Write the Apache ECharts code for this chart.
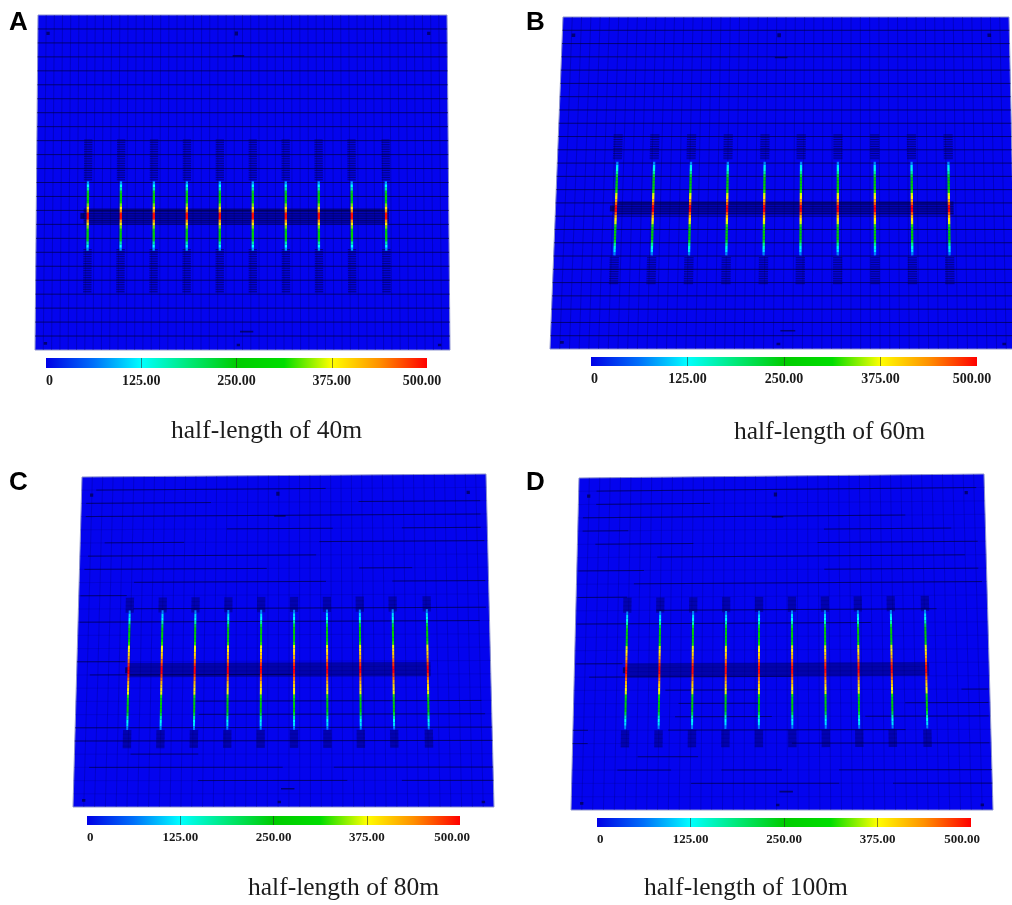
<!DOCTYPE html>
<html><head><meta charset="utf-8">
<style>html,body{margin:0;padding:0;background:#fff}#c{width:1012px;height:905px;filter:blur(0.45px)}</style>
<script src="https://cdn.jsdelivr.net/npm/echarts@6/dist/echarts.min.js"></script>
</head><body><div id="c"></div>
<script>
// ---------- content ----------
const panelLetters = ['A','B','C','D'];
const captions = ['half-length of 40m','half-length of 60m','half-length of 80m','half-length of 100m'];
const scaleTicks = [0,125,250,375,500];
// fracture positions along the horizontal well (model units, 0-1000 across the block)
const fractureXA = [125,205,285,365,445,525,605,685,765,848];
const fractureXB = [132,213,294,375,456,536,617,698,779,860];
const fractureXs = [fractureXA,fractureXB,fractureXA,fractureXA];
// well row in each panel (model units, 0-1000 down the block)
const wellRow = [600,577,586,580];
const fractureSpan = [104,141,181,177];
// pressure read along one fracture, tip to well, then mirrored
const pressureA = [80,125,170,235,255,265,285,340,385,435,495];
const pressureB = [70,115,140,175,225,250,255,260,275,320,365,385,420,465,500];
const pressureC = [70,110,130,170,225,250,255,260,270,320,370,385,400,420,450,480,500];
const pressureD = [70,110,130,165,220,248,255,260,270,315,365,380,400,420,450,480,495];
const pressures = [pressureA,pressureB,pressureC,pressureD];
// dense mesh bands around fractures [from,to] above and below the well
const hatchA = [[373,492],[700,830]];
const hatchB = [[355,430],[725,807]];
const hatchC = [[367,412],[768,822]];
const hatchD = [[362,407],[761,812]];
const hatches = [hatchA,hatchB,hatchC,hatchD];
const wellBandA = [579,621], wellBandB = [557,596], wellBandC = [565,607], wellBandD = [560,600];
const wellBands = [wellBandA,wellBandB,wellBandC,wellBandD];
const wellExtent = [[115,855],[127,870],[125,855],[125,855]];
const rowCounts = [24,25,25,25];
const colCounts = [50,48,39,39];
// visible dark mesh runs in C and D: [row, from, to]
const meshRunsC = [[1,36,603],[2,12,320],[2,684,984],[3,12,984],[4,360,620],[4,790,984],[5,60,255],[5,587,992],[6,20,579],[7,12,458],[7,684,814],[8,134,603],[8,765,992],[9,4,117],[10,134,992],[11,4,976],[14,0,117],[15,32,522],[17,288,976],[18,296,984],[19,0,1000],[20,0,1000],[21,134,296],[22,36,498],[22,620,1000],[23,296,652],[23,782,1000]];
const meshRunsD = [[1,44,980],[2,44,324],[3,12,804],[4,12,124],[4,604,916],[5,44,284],[5,588,980],[6,196,948],[7,4,164],[7,604,980],[8,140,988],[9,4,124],[10,196,876],[11,4,716],[14,4,116],[15,36,524],[16,220,444],[16,932,996],[17,252,444],[17,796,996],[18,244,476],[18,700,996],[19,0,36],[19,228,796],[20,0,36],[20,524,996],[21,156,300],[22,108,236],[22,356,500],[22,636,1000],[23,284,636],[23,764,1000]];
const meshRuns = [null,null,meshRunsC,meshRunsD];
// small well/label marks on the block: [u, v, halfWidth, halfHeight]
const blockMarks = [[25,55,4,5],[485,55,4,6],[955,55,4,5],[490,122,14,2.5],[25,980,4,4],[490,985,4,4],[975,985,4,4],[510,945,16,2.5]];

// ---------- layout & style ----------
const corners = [
 [[38,15],[447,15],[450,350],[35,350]],
 [[563,17],[1009,17],[1016,349],[550,349]],
 [[82,477],[486,474],[494,807],[73,807]],
 [[579,478],[984,474],[993,810],[571,810]]];
const barRects = [
 {left:46,top:358,width:381,height:10},
 {left:591,top:357,width:386,height:9},
 {left:87,top:816,width:373,height:9},
 {left:597,top:818,width:374,height:9}];
const captionPos = [[171,418],[734,419],[248,875],[644,875]];
const letterPos = [[9,10],[526,10],[9,470],[526,470]];
const maxLabelNudge = [10,10,16,18];
const look = [
 {row:'rgba(0,0,70,.72)',col:'rgba(0,0,90,.3)',hatch:'rgba(0,0,50,.55)',band:'rgba(0,0,110,.12)',wellBand:'rgba(0,0,90,.4)',seg:2.3,dense:7},
 {row:'rgba(0,0,70,.72)',col:'rgba(0,0,90,.3)',hatch:'rgba(0,0,50,.55)',band:'rgba(0,0,110,.12)',wellBand:'rgba(0,0,90,.4)',seg:2.3,dense:7},
 {row:'rgba(0,0,120,.2)',col:'rgba(0,0,110,.28)',hatch:'rgba(0,0,70,.15)',band:'rgba(0,0,90,.42)',wellBand:'rgba(0,0,90,.45)',seg:2,dense:12},
 {row:'rgba(0,0,120,.2)',col:'rgba(0,0,110,.28)',hatch:'rgba(0,0,70,.15)',band:'rgba(0,0,90,.42)',wellBand:'rgba(0,0,90,.45)',seg:2,dense:12}];
const rainbow = ['#0000e6','#0070fa','#00ffff','#00e878','#00cc00','#00dd00','#ffff00','#ff9000','#ff0000'];
const FILL='#0404ee', EDGE='#8d93cf', RUN='rgba(0,0,60,.62)';

// ---------- helpers ----------
const bbox = q => {
  const xs=q.map(p=>p[0]), ys=q.map(p=>p[1]);
  const l=Math.min(...xs), t=Math.min(...ys);
  return {left:l,top:t,width:Math.max(...xs)-l,height:Math.max(...ys)-t};
};
const warpPoint = (pt,rect,q) => {
  const s=(pt[0]-rect.x)/rect.width, t=(pt[1]-rect.y)/rect.height;
  const tx=q[0][0]+(q[1][0]-q[0][0])*s, ty=q[0][1]+(q[1][1]-q[0][1])*s;
  const bx=q[3][0]+(q[2][0]-q[3][0])*s, by=q[3][1]+(q[2][1]-q[3][1])*s;
  return [tx+(bx-tx)*t, ty+(by-ty)*t];
};
const KIND={COL:0,ROW:1,RUN:2,HATCH:3,WELLBAND:4,BAND:5,MARK:6,BLOCK:7};
function meshData(i){
  const d=[[0,0,1000,1000,KIND.BLOCK]], fx=fractureXs[i];
  fx.forEach(x=>hatches[i].forEach(h=>d.push([x-10,h[0],x+10,h[1],KIND.BAND])));
  d.push([wellExtent[i][0],wellBands[i][0],wellExtent[i][1],wellBands[i][1],KIND.WELLBAND]);
  for(let c=1;c<colCounts[i];c++){const u=c*1000/colCounts[i];d.push([u,0,u,1000,KIND.COL]);}
  for(let r=1;r<rowCounts[i];r++){const v=r*1000/rowCounts[i];d.push([0,v,1000,v,KIND.ROW]);}
  if(meshRuns[i]) meshRuns[i].forEach(m=>{const v=m[0]*1000/rowCounts[i];d.push([m[1],v,m[2],v,KIND.RUN]);});
  fx.forEach(x=>hatches[i].forEach(h=>{
    for(let v=h[0];v<=h[1];v+=look[i].dense) d.push([x-10,v,x+10,v,KIND.HATCH]);
  }));
  const w=wellBands[i];
  for(let v=w[0];v<=w[1];v+=look[i].dense) d.push([wellExtent[i][0],v,wellExtent[i][1],v,KIND.HATCH]);
  blockMarks.forEach(m=>d.push([m[0]-m[2],m[1]-m[3],m[0]+m[2],m[1]+m[3],KIND.MARK]));
  d.push([wellExtent[i][0]-8,wellRow[i]-9,wellExtent[i][0]+2,wellRow[i]+9,KIND.MARK]);
  return d;
}
function fractureData(i){
  const p=pressures[i], n=p.length, step=fractureSpan[i]/n, d=[];
  fractureXs[i].forEach(x=>{
    for(let k=0;k<n;k++){
      const top=wellRow[i]-fractureSpan[i]+k*step;
      d.push([x,top,top+step,p[k]]);
      const bot=wellRow[i]+fractureSpan[i]-k*step;
      d.push([x,bot-step,bot,p[k]]);
    }
  });
  return d;
}
function renderMesh(i){
  const q=corners[i], L=look[i];
  return function(params,api){
    const rect=params.coordSys;
    const P=(u,v)=>warpPoint(api.coord([u,v]),rect,q);
    const u1=api.value(0),v1=api.value(1),u2=api.value(2),v2=api.value(3),k=api.value(4);
    if(k===KIND.BLOCK||k===KIND.BAND||k===KIND.WELLBAND||k===KIND.MARK){
      const fill=k===KIND.BLOCK?FILL:k===KIND.BAND?L.band:k===KIND.WELLBAND?L.wellBand:'rgba(0,0,55,.65)';
      return {type:'polygon',shape:{points:[P(u1,v1),P(u2,v1),P(u2,v2),P(u1,v2)]},
        style:{fill,stroke:k===KIND.BLOCK?EDGE:null,lineWidth:1},silent:true};
    }
    const a=P(u1,v1),b=P(u2,v2);
    const stroke=k===KIND.COL?L.col:k===KIND.ROW?L.row:k===KIND.RUN?RUN:L.hatch;
    return {type:'line',shape:{x1:a[0],y1:a[1],x2:b[0],y2:b[1]},
      style:{stroke,lineWidth:k===KIND.HATCH?0.9:1,fill:null},silent:true};
  };
}
function renderFracture(i){
  const q=corners[i], L=look[i];
  return function(params,api){
    const rect=params.coordSys;
    const a=warpPoint(api.coord([api.value(0),api.value(1)]),rect,q);
    const b=warpPoint(api.coord([api.value(0),api.value(2)]),rect,q);
    return {type:'line',shape:{x1:a[0],y1:a[1],x2:b[0],y2:b[1]},
      style:{stroke:api.visual('color'),lineWidth:L.seg,fill:null},silent:true};
  };
}
function renderBar(params,api){
  const a=api.coord([api.value(0),1]), b=api.coord([api.value(1),0]);
  return {type:'rect',shape:{x:a[0],y:a[1],width:b[0]-a[0],height:b[1]-a[1]},
    style:{fill:new echarts.graphic.LinearGradient(0,0,1,0,rainbow.map((c,j)=>({offset:j/(rainbow.length-1),color:c})))},silent:true};
}

// ---------- option ----------
const grids=[],xAxes=[],yAxes=[],series=[],fractureSeries=[];
corners.forEach((q,i)=>{
  grids.push(bbox(q));
  xAxes.push({gridIndex:i,type:'value',min:0,max:1000,show:false});
  yAxes.push({gridIndex:i,type:'value',min:0,max:1000,inverse:true,show:false});
});
barRects.forEach((r,i)=>{
  const g=4+i, fs=i<2?14:13, font={fontFamily:'Liberation Serif',fontWeight:'bold',fontSize:fs,color:'#1a1a1a'};
  grids.push(r);
  xAxes.push({gridIndex:g,type:'value',min:scaleTicks[0],max:scaleTicks[scaleTicks.length-1],interval:125,z:5,
    axisLine:{show:false},axisTick:{show:false},
    splitLine:{show:true,showMinLine:false,showMaxLine:false,lineStyle:{color:'rgba(40,40,40,.55)',width:1}},
    axisLabel:{show:true,margin:6,hideOverlap:false,alignMinLabel:'left',alignMaxLabel:'center',...font,
      formatter:v=>v===0?'0':v===500?'{m|'+v.toFixed(2)+'}':v.toFixed(2),
      rich:{m:{...font,padding:[0,maxLabelNudge[i],0,0]}}}});
  yAxes.push({gridIndex:g,type:'value',min:0,max:1,show:false});
});
corners.forEach((q,i)=>{
  series.push({type:'custom',coordinateSystem:'cartesian2d',xAxisIndex:i,yAxisIndex:i,
    data:meshData(i),renderItem:renderMesh(i),clip:false,animation:false,progressive:0,silent:true,
    encode:{x:[0,2],y:[1,3]},z:2});
});
corners.forEach((q,i)=>{
  fractureSeries.push(series.length);
  series.push({type:'custom',coordinateSystem:'cartesian2d',xAxisIndex:i,yAxisIndex:i,
    data:fractureData(i),renderItem:renderFracture(i),clip:false,animation:false,progressive:0,silent:true,
    encode:{x:0,y:[1,2]},z:3});
});
barRects.forEach((r,i)=>{
  series.push({type:'custom',coordinateSystem:'cartesian2d',xAxisIndex:4+i,yAxisIndex:4+i,
    data:[[scaleTicks[0],scaleTicks[scaleTicks.length-1]]],renderItem:renderBar,animation:false,silent:true,
    encode:{x:[0,1]},z:1});
});
const titles=[];
captions.forEach((t,i)=>titles.push({text:t,left:captionPos[i][0],top:captionPos[i][1],padding:0,
  textStyle:{fontFamily:'Liberation Serif',fontWeight:'normal',fontSize:25.5,color:'#1c1c1c'}}));
panelLetters.forEach((t,i)=>titles.push({text:t,left:letterPos[i][0],top:letterPos[i][1],padding:0,
  textStyle:{fontFamily:'Liberation Sans',fontWeight:'bold',fontSize:26,color:'#000'}}));

const chart=echarts.init(document.getElementById('c'),null,{renderer:'canvas',width:1012,height:905});
chart.setOption({animation:false,backgroundColor:'#fff',title:titles,grid:grids,xAxis:xAxes,yAxis:yAxes,
  visualMap:{type:'continuous',show:false,seriesIndex:fractureSeries,dimension:3,min:0,max:500,inRange:{color:rainbow}},
  series});
</script></body></html>
